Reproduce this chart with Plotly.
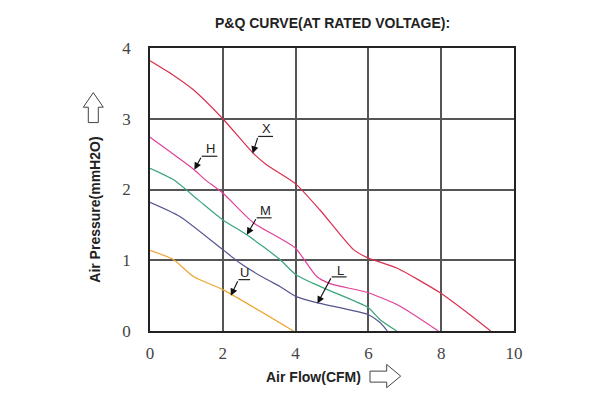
import plotly.graph_objects as go

# ---- data ----
x_X = [0, 0.6, 1.19, 2.0, 2.84, 3.2, 4.0, 4.67, 5.59, 6.0, 6.78, 7.97, 8.79, 9.36]
y_X = [3.82, 3.63, 3.41, 3.0, 2.51, 2.35, 2.08, 1.71, 1.15, 1.03, 0.89, 0.54, 0.23, 0]

x_H = [0, 1.19, 1.51, 2.0, 2.84, 3.57, 4.0, 4.58, 4.95, 6.0, 6.87, 7.92]
y_H = [2.74, 2.29, 2.14, 1.95, 1.53, 1.31, 1.17, 0.77, 0.67, 0.54, 0.35, 0]

x_M = [0, 0.64, 1.33, 2.0, 2.66, 3.57, 4.0, 4.76, 6.0, 6.32, 6.78]
y_M = [2.30, 2.14, 1.85, 1.57, 1.36, 1.01, 0.80, 0.61, 0.33, 0.16, 0]

x_L = [0, 0.82, 2.0, 2.47, 3.2, 3.57, 4.0, 4.58, 6.0, 6.32, 6.52]
y_L = [1.82, 1.62, 1.15, 0.96, 0.73, 0.63, 0.49, 0.40, 0.23, 0.12, 0]

x_U = [0, 0.64, 1.19, 2.0, 3.94]
y_U = [1.14, 1.01, 0.77, 0.585, 0]

series_names = ["X", "H", "M", "L", "U"]
series_colors = ["#d9304f", "#e0409a", "#3aa67a", "#55558f", "#eea535"]

x_ticks = [0, 2, 4, 6, 8, 10]
y_ticks = [0, 1, 2, 3, 4]

# label text position, underline span, arrow tip (data coords)
labels = [
    ("X", 3.20, 2.86, 2.97, 3.38, 2.75, 2.82, 2.51),
    ("H", 1.65, 2.58, 1.42, 1.85, 2.47, 1.22, 2.28),
    ("M", 3.16, 1.71, 2.93, 3.34, 1.60, 2.66, 1.36),
    ("L", 5.22, 0.86, 4.99, 5.40, 0.765, 4.60, 0.39),
    ("U", 2.59, 0.82, 2.43, 2.75, 0.726, 2.22, 0.50),
]

xs = [x_X, x_H, x_M, x_L, x_U]
ys = [y_X, y_H, y_M, y_L, y_U]

fig = go.Figure()
for name, c, xv, yv in zip(series_names, series_colors, xs, ys):
    fig.add_trace(go.Scatter(x=xv, y=yv, mode="lines", name=name,
                             line=dict(color=c, width=1.2, shape="spline", smoothing=0.6),
                             showlegend=False, hoverinfo="skip"))

OFF = 8  # page body margin
W, H = 600 - OFF, 400 - OFF
L, R, T, B = 150 - OFF, 86, 48 - OFF, 68.5
pw, ph = W - L - R, H - T - B


def px(xp):
    return (xp - OFF - L) / pw


def py(yp):
    return (H - B - (yp - OFF)) / ph


shapes = []
annotations = []
for name, tx, ty, u0, u1, uy, ax_tip, ay_tip in labels:
    annotations.append(dict(x=tx, y=ty, xref="x", yref="y", text=name, showarrow=False,
                            xanchor="center", yanchor="middle",
                            font=dict(family="Liberation Sans, Arial", size=13, color="#222")))
    shapes.append(dict(type="line", xref="x", yref="y", x0=u0, x1=u1, y0=uy, y1=uy,
                       line=dict(color="#222", width=1.2)))
    annotations.append(dict(x=ax_tip, y=ay_tip, ax=u0, ay=uy, xref="x", yref="y",
                            axref="x", ayref="y", text="", showarrow=True,
                            arrowhead=2, arrowsize=1.3, arrowwidth=1.1, arrowcolor="#111"))

# title and axis labels
annotations.append(dict(x=px(332), y=py(23), xref="paper", yref="paper",
                        xanchor="center", yanchor="middle",
                        text="<b>P&Q CURVE(AT RATED VOLTAGE):</b>", showarrow=False,
                        font=dict(family="Liberation Sans, Arial", size=14, color="#222")))
annotations.append(dict(x=px(313), y=py(378), xref="paper", yref="paper",
                        xanchor="center", yanchor="middle",
                        text="<b>Air Flow(CFM)</b>", showarrow=False,
                        font=dict(family="Liberation Sans, Arial", size=14, color="#222")))
annotations.append(dict(x=px(95), y=py(210), xref="paper", yref="paper",
                        xanchor="center", yanchor="middle",
                        text="<b>Air Pressure(mmH2O)</b>", showarrow=False, textangle=-90,
                        font=dict(family="Liberation Sans, Arial", size=14, color="#222")))


def path_from(points):
    return "M " + " L ".join(f"{px(a):.4f},{py(b):.4f}" for a, b in points) + " Z"


up_arrow = [(88.3, 122.7), (88.3, 107.3), (83.3, 107.3), (93.3, 92.7),
            (103.3, 107.3), (98.3, 107.3), (98.3, 122.7)]
right_arrow = [(370, 371.7), (386.7, 371.7), (386.7, 365), (400.7, 376.7),
               (386.7, 388.3), (386.7, 382.7), (370, 382.7)]
for pts in (up_arrow, right_arrow):
    shapes.append(dict(type="path", xref="paper", yref="paper", path=path_from(pts),
                       line=dict(color="#444", width=1), fillcolor="rgba(0,0,0,0)"))

fig.update_layout(
    width=W, height=H,
    margin=dict(l=L, r=R, t=T, b=B),
    plot_bgcolor="white", paper_bgcolor="white",
    shapes=shapes, annotations=annotations,
)
fig.update_xaxes(range=[0, 10], tickvals=x_ticks, ticktext=[str(v) for v in x_ticks],
                 showgrid=True, gridcolor="#555", gridwidth=1.5,
                 showline=True, linecolor="#222", linewidth=1.5, mirror=True,
                 zeroline=False, ticks="outside", ticklen=6, tickcolor="rgba(0,0,0,0)",
                 tickfont=dict(family="Liberation Serif, Times New Roman", size=17, color="#444"))
fig.update_yaxes(range=[0, 4], tickvals=y_ticks, ticktext=[str(v) for v in y_ticks],
                 showgrid=True, gridcolor="#555", gridwidth=1.5,
                 showline=True, linecolor="#222", linewidth=1.5, mirror=True,
                 zeroline=False, ticks="outside", ticklen=14, tickcolor="rgba(0,0,0,0)",
                 tickfont=dict(family="Liberation Serif, Times New Roman", size=17, color="#444"))

fig.write_html("out.html")
